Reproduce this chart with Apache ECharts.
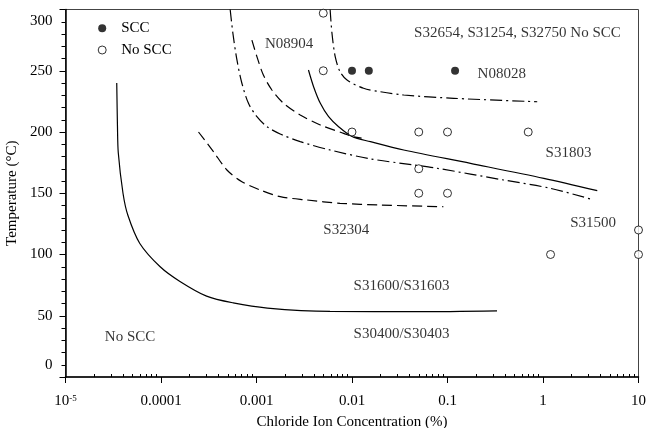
<!DOCTYPE html>
<html><head><meta charset="utf-8">
<script src="https://cdn.jsdelivr.net/npm/echarts@6/dist/echarts.min.js"></script>
<style>html,body{margin:0;padding:0;background:#fff}#c{width:654px;height:428px}</style>
</head><body><div id="c"></div>
<script>
// ---- data ----
const xTickLabels = ['10^-5', '0.0001', '0.001', '0.01', '0.1', '1', '10'];
const yTicks = [0, 50, 100, 150, 200, 250, 300];

const sccPoints = [[0.01, 250], [0.015, 250], [0.12, 250]];
const noSccPoints = [[0.005, 297], [0.005, 250], [0.01, 200], [0.05, 200], [0.1, 200], [0.7, 200],
  [0.05, 170], [0.05, 150], [0.1, 150], [1.2, 100], [10, 120], [10, 100]];

// S30400 / S31600 boundary (solid)
const curveS316 = [[3.44e-5, 240], [3.5e-5, 205], [3.57e-5, 183], [4.0e-5, 150], [4.5e-5, 132],
  [6.0e-5, 109], [9.8e-5, 90], [1.58e-4, 78], [3.0e-4, 66], [5.7e-4, 60.5], [1.3e-3, 56.3],
  [5.9e-3, 53.5], [0.05, 53.3], [0.33, 54]];
// S32304 (dashed)
const curveS32304 = [[2.47e-4, 200], [3.54e-4, 184], [4.9e-4, 169], [7.03e-4, 159.4], [1.09e-3, 152.7],
  [1.77e-3, 147.2], [3.37e-3, 144.5], [7.5e-3, 141.8], [0.02, 140.4], [0.0906, 139]];
// S31500 (dash-dot)
const curveS31500 = [[5.3e-4, 300], [5.66e-4, 280.6], [6.24e-4, 258.8], [7.03e-4, 239.8], [8.24e-4, 223.4],
  [1.01e-3, 212.5], [1.29e-3, 204.3], [1.77e-3, 198.4], [2.87e-3, 192.1], [5.9e-3, 185.3],
  [0.0155, 178.1], [0.0443, 173.1], [0.0778, 170.4], [0.388, 160.8], [1.2, 154], [3.41, 144.5]];
// N08904 (dashed)
const curveN08904 = [[8.95e-4, 275], [1.01e-3, 261.5], [1.18e-3, 246.5], [1.45e-3, 234.3], [1.92e-3, 223.4],
  [2.87e-3, 213.9], [4.66e-3, 205.7], [8.17e-3, 198.9], [0.01, 196.3], [0.0126, 195]];
// S31803 (solid)
const curveS31803 = [[3.5e-3, 250.6], [3.96e-3, 237], [4.66e-3, 223.4], [5.69e-3, 212.5], [7.24e-3, 204.3],
  [0.01, 196.3], [0.0156, 192.1], [0.0348, 185.3], [0.174, 174.4], [1.02, 162.2], [3.7, 152.1]];
// N08028 (dash-dot)
const curveN08028 = [[5.9e-3, 300], [6.17e-3, 280.6], [6.67e-3, 261.5], [7.5e-3, 249.2], [8.87e-3, 242.4],
  [0.0132, 235.7], [0.0198, 232.9], [0.0348, 230.2], [0.116, 227.5], [0.87, 224.7]];

const annotations = [
  [0.0022, 272, 'N08904'],
  [0.54, 281, 'S32654, S31254, S32750 No SCC'],
  [0.37, 247, 'N08028'],
  [1.85, 183, 'S31803'],
  [3.35, 126, 'S31500'],
  [0.0087, 120, 'S32304'],
  [0.033, 74, 'S31600/S31603'],
  [0.033, 35, 'S30400/S30403'],
  [4.74e-5, 33, 'No SCC']
];

// ---- chart ----
const FONT = 'Liberation Serif, Times New Roman, serif';
const minorVals = [];
for (let e = -5; e < 1; e++) for (let m = 2; m <= 9; m++) minorVals.push(m * Math.pow(10, e));

function lineSeries(data, type) {
  return {
    type: 'line', data: data, showSymbol: false, symbol: 'none', smooth: 0.3,
    lineStyle: { color: '#000', width: 1.2, type: type }, silent: true, z: 2
  };
}
const DASH = [10, 5];
const DASHDOT = [12, 4, 2, 4];

const chart = echarts.init(document.getElementById('c'), null, { renderer: 'canvas' });
chart.setOption({
  animation: false,
  backgroundColor: '#fff',
  textStyle: { fontFamily: FONT, color: '#000' },
  grid: { left: 65.5, right: 15.5, top: 9.5, bottom: 51, show: true, borderColor: '#444', borderWidth: 1,
    containLabel: false, outerBoundsMode: 'none' },
  legend: {
    data: [
      { name: 'SCC', icon: 'circle', itemStyle: { color: '#000' } },
      { name: 'No SCC', icon: 'circle', itemStyle: { color: '#fff', borderColor: '#000', borderWidth: 1 } }
    ],
    orient: 'vertical', left: 92.7, top: 15.8, itemWidth: 8, itemHeight: 8, itemGap: 6.7,
    textStyle: { fontFamily: FONT, fontSize: 15, color: '#000', lineHeight: 15, padding: [0, 0, 0, 10] },
    selectedMode: false
  },
  xAxis: [{
    type: 'log', logBase: 10, min: 1e-5, max: 10,
    name: 'Chloride Ion Concentration (%)', nameLocation: 'middle', nameGap: 38,
    nameTextStyle: { fontFamily: FONT, fontSize: 15, color: '#000' },
    axisLine: { lineStyle: { color: '#000', width: 1.5 } },
    axisTick: { show: true, inside: false, length: 6, lineStyle: { color: '#000', width: 1 } },
    splitLine: { show: false },
    axisLabel: {
      margin: 17, fontFamily: FONT, fontSize: 15, color: '#000',
      formatter: function (v) {
        const idx = Math.round(Math.log10(v)) + 5;
        const t = xTickLabels[idx];
        if (t && t.indexOf('^') > 0) {
          const p = t.split('^');
          return '{b|' + p[0] + '}{s|' + p[1] + '}';
        }
        return t || '';
      },
      rich: {
        b: { fontFamily: FONT, fontSize: 15, color: '#000', lineHeight: 15 },
        s: { fontFamily: FONT, fontSize: 9, color: '#000', verticalAlign: 'top', lineHeight: 9 }
      }
    }
  }, {
    type: 'log', logBase: 10, min: 1e-5, max: 10, position: 'bottom', gridIndex: 0,
    axisLine: { show: false }, axisLabel: { show: false }, splitLine: { show: false },
    axisTick: { show: true, inside: true, length: 3, customValues: minorVals, lineStyle: { color: '#000', width: 1 } }
  }],
  yAxis: {
    type: 'value', min: 0, max: 300, interval: 50,
    name: 'Temperature (°C)', nameLocation: 'middle', nameGap: 38,
    nameTextStyle: { fontFamily: FONT, fontSize: 15, color: '#000' },
    axisLine: { show: true, lineStyle: { color: '#000', width: 1.5 } },
    axisTick: { show: true, inside: false, length: 6, lineStyle: { color: '#000', width: 1 } },
    minorTick: { show: true, splitNumber: 5, length: 4, lineStyle: { color: '#000', width: 1 } },
    splitLine: { show: false },
    axisLabel: {
      margin: 13, fontFamily: FONT, fontSize: 15, color: '#000',
      formatter: function (v) {
        if (v === yTicks[yTicks.length - 1]) return '{t|' + v + '}';
        if (v === yTicks[0]) return '{z|' + v + '}';
        return String(v);
      },
      rich: {
        t: { fontFamily: FONT, fontSize: 15, color: '#000', padding: [23, 0, 0, 0] },
        z: { fontFamily: FONT, fontSize: 15, color: '#000', padding: [0, 0, 24, 0] }
      }
    }
  },
  series: [
    lineSeries(curveS316, 'solid'),
    lineSeries(curveS32304, DASH),
    lineSeries(curveS31500, DASHDOT),
    lineSeries(curveN08904, DASH),
    lineSeries(curveS31803, 'solid'),
    lineSeries(curveN08028, DASHDOT),
    {
      name: 'SCC', type: 'scatter', data: sccPoints, symbol: 'circle', symbolSize: 8,
      itemStyle: { color: '#000' }, z: 5, silent: true
    },
    {
      name: 'No SCC', type: 'scatter', data: noSccPoints, symbol: 'circle', symbolSize: 8,
      itemStyle: { color: '#fff', borderColor: '#000', borderWidth: 1 }, z: 5, silent: true
    },
    {
      type: 'scatter', data: annotations.map(a => ({ value: [a[0], a[1]], name: a[2] })),
      symbolSize: 0, silent: true, z: 6,
      label: { show: true, position: 'inside', formatter: p => p.name, fontFamily: FONT, fontSize: 15, color: '#000' }
    }
  ]
});
</script></body></html>
